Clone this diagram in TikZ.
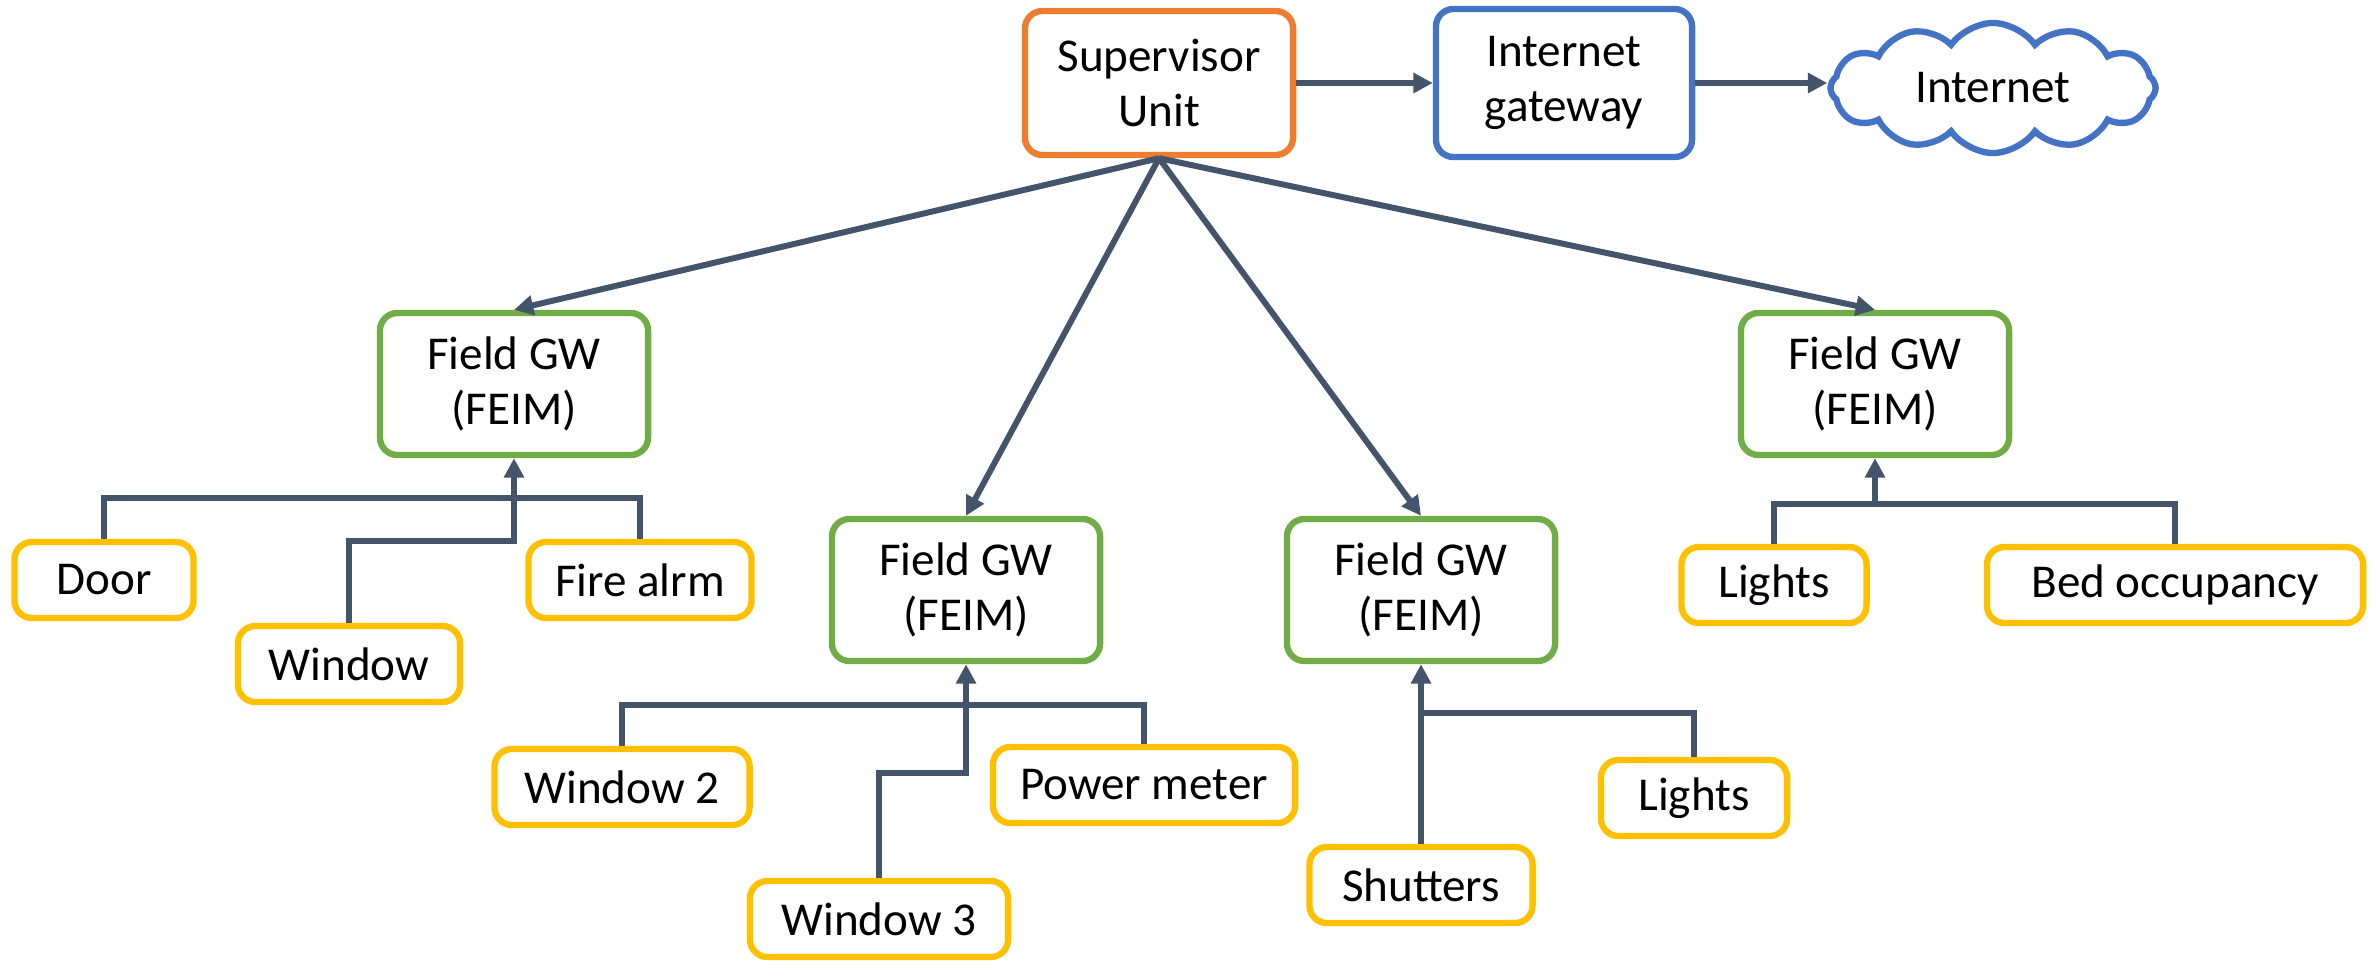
\documentclass[tikz,border=0pt]{standalone}
\usepackage{fontspec}
\setmainfont{Carlito}
\usetikzlibrary{arrows.meta,shapes.symbols}

\definecolor{linec}{HTML}{44546A}
\definecolor{supc}{HTML}{ED7D31}
\definecolor{netc}{HTML}{4472C4}
\definecolor{gwc}{HTML}{70AD47}
\definecolor{devc}{HTML}{FFC000}

\tikzset{
  txt/.style={font=\fontsize{13.4}{15.6}\selectfont},
  base/.style={txt, rounded corners=5pt, line width=1.8pt, fill=white, align=center,
    inner sep=0pt},
  supbox/.style={base, draw=supc},
  netbox/.style={base, draw=netc},
  gwbox/.style={base, draw=gwc, minimum width=2.68cm, minimum height=1.42cm},
  devbox/.style={base, draw=devc, minimum height=0.76cm},
  link/.style={draw=linec, line width=1.7pt},
  arr/.style={link, -{Triangle[length=5.5pt,width=5.5pt]}},
}

\begin{document}
\begin{tikzpicture}[x=0.01cm, y=-0.01cm]
  \useasboundingbox (0,0) rectangle (2380,960);

  % top row
  \node[supbox, minimum width=2.68cm, minimum height=1.44cm] (su) at (1159,83) {Supervisor\\Unit};
  \node[netbox, minimum width=2.56cm, minimum height=1.48cm] (ig) at (1564,83) {Internet\\gateway};
  \node[txt, cloud, cloud puffs=12, cloud puff arc=110, aspect=2.4, draw=netc, line width=1.8pt,
        fill=white, minimum width=3.25cm, minimum height=1.3cm, inner sep=0pt] (net) at (1993,88) {Internet};

  % field gateways
  \node[gwbox] (gw1) at (514,384) {Field GW\\(FEIM)};
  \node[gwbox] (gw2) at (966,590) {Field GW\\(FEIM)};
  \node[gwbox] (gw3) at (1421,590) {Field GW\\(FEIM)};
  \node[gwbox] (gw4) at (1875,384) {Field GW\\(FEIM)};

  % devices
  \node[devbox, minimum width=1.79cm] (door) at (104,580) {Door};
  \node[devbox, minimum width=2.22cm] (win) at (349,664) {Window};
  \node[devbox, minimum width=2.23cm] (fire) at (640,580) {Fire alrm};
  \node[devbox, minimum width=2.55cm] (win2) at (622,787) {Window 2};
  \node[devbox, minimum width=3.02cm] (pow) at (1144,785) {Power meter};
  \node[devbox, minimum width=2.58cm] (win3) at (879,919) {Window 3};
  \node[devbox, minimum width=2.23cm] (shut) at (1421,885) {Shutters};
  \node[devbox, minimum width=1.86cm] (lig3) at (1694,798) {Lights};
  \node[devbox, minimum width=1.85cm] (lig4) at (1774,585) {Lights};
  \node[devbox, minimum width=3.76cm] (bed) at (2175,585) {Bed occupancy};

  % uplinks
  \draw[arr] (su) -- (ig);
  \draw[arr] (ig) -- (ig -| net.west);
  \draw[arr] (su.south) -- (gw1.north);
  \draw[arr] (su.south) -- (gw2.north);
  \draw[arr] (su.south) -- (gw3.north);
  \draw[arr] (su.south) -- (gw4.north);

  % gateway 1 bus
  \coordinate (b1) at (514,498);
  \coordinate (j1) at (514,541);
  \draw[link] (door.north) |- (b1) -| (fire.north);
  \draw[arr] (win.north) |- (j1) -- (gw1.south);

  % gateway 2 bus
  \coordinate (b2) at (966,705);
  \coordinate (j2) at (966,773);
  \draw[link] (win2.north) |- (b2) -| (pow.north);
  \draw[arr] (win3.north) |- (j2) -- (gw2.south);

  % gateway 3 bus
  \coordinate (j3) at (1421,713);
  \draw[arr] (shut.north) -- (gw3.south);
  \draw[link] (j3) -| (lig3.north);

  % gateway 4 bus
  \coordinate (j4) at (1875,504);
  \draw[link] (lig4.north) |- (j4) -| (bed.north);
  \draw[arr] (j4) -- (gw4.south);
\end{tikzpicture}
\end{document}
